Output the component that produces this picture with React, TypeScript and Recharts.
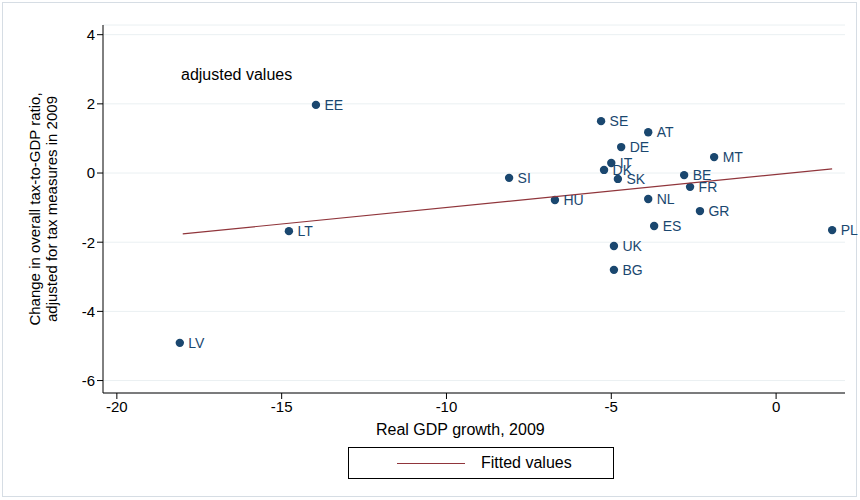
import { ComposedChart, Scatter, XAxis, YAxis, CartesianGrid, LabelList } from "recharts";

const countries = ["EE", "SE", "AT", "DE", "IT", "DK", "SK", "SI", "MT", "BE", "FR", "NL", "GR", "ES", "UK", "BG", "HU", "LT", "LV", "PL"];
const gdpGrowth = [-13.96, -5.31, -3.88, -4.7, -5.0, -5.22, -4.8, -8.1, -1.88, -2.79, -2.61, -3.88, -2.31, -3.7, -4.92, -4.92, -6.71, -14.78, -18.09, 1.7];
const taxChange = [1.97, 1.5, 1.18, 0.75, 0.29, 0.09, -0.17, -0.14, 0.46, -0.06, -0.4, -0.75, -1.1, -1.53, -2.11, -2.8, -0.78, -1.68, -4.91, -1.65];
const fitX = [-18, 1.7];
const fitY = [-1.76, 0.12];
const xTicks = [-20, -15, -10, -5, 0];
const yTicks = [-6, -4, -2, 0, 2, 4];

const points = countries.map((name, i) => ({ name, x: gdpGrowth[i], y: taxChange[i] }));
const fitted = fitX.map((x, i) => ({ x, y: fitY[i] }));

const font = "'Liberation Sans', Arial, sans-serif";

const YLabel = () => (
  <text transform="translate(48,209) rotate(-90)" textAnchor="middle" fontSize={15} fill="#000" fontFamily={font}>
    <tspan x={0} dy={-8}>Change in overall tax-to-GDP ratio,</tspan>
    <tspan x={0} dy={17}>adjusted for tax measures in 2009</tspan>
  </text>
);

export default function App() {
  return (
    <div style={{ position: "absolute", left: 0, top: 0, width: 860, height: 500, background: "#fff", fontFamily: font }}>
      <div style={{ position: "absolute", left: 2, top: 2, width: 853, height: 493, border: "1px solid #d6dde4" }} />
      <ComposedChart width={860} height={500} margin={{ top: 25, right: 15, left: 40, bottom: 77 }}>
        <CartesianGrid horizontal vertical={false} stroke="#eaf0f2" />
        <XAxis type="number" dataKey="x" domain={[-20.42, 2.09]} ticks={xTicks} height={30} allowDataOverflow
          tick={{ fill: "#000", fontSize: 15, fontFamily: font }} stroke="#000" tickSize={6} />
        <YAxis type="number" dataKey="y" domain={[-6.36, 4.28]} ticks={yTicks} width={63} allowDataOverflow
          tick={{ fill: "#000", fontSize: 15, fontFamily: font }} stroke="#000" tickSize={6} label={<YLabel />} />
        <Scatter data={points} fill="#1a476f" isAnimationActive={false}
          shape={(p: any) => <circle cx={p.cx} cy={p.cy} r={4.2} fill="#1a476f" />}>
          <LabelList dataKey="name" position="right" offset={4} fill="#1a476f" fontSize={14} fontFamily={font} />
        </Scatter>
        <Scatter data={fitted} line={{ stroke: "#90353b", strokeWidth: 1.2 }} shape={() => null} isAnimationActive={false} />
      </ComposedChart>
      <div style={{ position: "absolute", left: 181, top: 66, fontSize: 16, color: "#000" }}>adjusted values</div>
      <div style={{ position: "absolute", left: 376, top: 421, fontSize: 16, color: "#000" }}>Real GDP growth, 2009</div>
      <div style={{ position: "absolute", left: 348, top: 447, width: 264, height: 30, border: "1px solid #000", display: "flex", alignItems: "center", fontSize: 16 }}>
        <div style={{ width: 68, height: 0, borderTop: "1px solid #90353b", marginLeft: 48 }} />
        <span style={{ marginLeft: 16 }}>Fitted values</span>
      </div>
    </div>
  );
}
